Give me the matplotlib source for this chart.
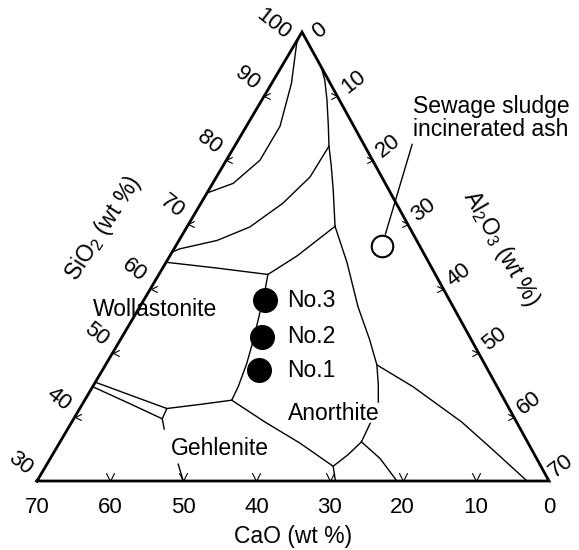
import numpy as np
import matplotlib
matplotlib.use("Agg")
import matplotlib.pyplot as plt
from matplotlib.path import Path

plt.rcParams["font.family"] = "Liberation Sans"
plt.rcParams["mathtext.fontset"] = "custom"
plt.rcParams["mathtext.rm"] = "Liberation Sans"

# --- Data (wt %): boundaries given as CaO / Al2O3, SiO2 is the remainder ---
# silica corner curve, left edge to left edge
b01_cao = [0.9, 1.6, 5.3, 10.1, 15.4, 20.8, 25.1]
b01_al = [0.0, 0.2, 2.7, 4.6, 4.6, 2.8, 0.0]
# from right edge near top down to the upper junction
b02_cao = [0.0, 0.5, 1.7, 3.4, 4.9, 6.0, 7.6, 10.1]
b02_al = [5.4, 7.0, 8.9, 11.1, 12.9, 14.7, 17.0, 20.2]
b03_cao = [4.9, 9.8, 15.5, 21.8, 27.3, 33.0, 34.3]
b03_al = [12.9, 12.8, 11.2, 8.6, 5.2, 0.8, 0.0]
b04_cao = [10.1, 17.5, 22.9]
b04_al = [20.2, 17.4, 14.9]
b05_cao = [35.9, 29.4, 22.9]
b05_al = [0.0, 7.4, 14.9]
# wollastonite / anorthite boundary (through the samples)
b06_cao = [22.9, 24.5, 26.9, 29.8, 32.5, 35.4, 37.3]
b06_al = [14.9, 15.8, 16.9, 18.2, 19.2, 19.9, 20.1]
b07_cao = [37.3, 41.5, 46.8]
b07_al = [20.1, 16.5, 11.9]
# double line on the left
b08_cao = [54.6, 50.8, 46.8, 48.2, 51.7, 55.3]
b08_al = [0.0, 5.8, 11.9, 12.1, 6.1, 0.0]
b09_cao = [48.2, 48.7]
b09_al = [12.1, 13.2]
b10_cao = [37.3, 34.4, 31.2, 28.4, 29.2]
b10_al = [20.1, 26.4, 32.9, 39.3, 40.8]
b11_cao = [28.4, 25.5, 22.7, 20.1]
b11_al = [39.3, 40.4, 41.2, 40.9]
b12_cao = [10.1, 11.2, 13.0, 13.9, 14.8, 16.1, 17.4]
b12_al = [20.2, 24.8, 29.8, 34.1, 37.1, 38.9, 40.3]
b13_cao = [14.8, 11.5, 7.5, 5.3, 3.0]
b13_al = [37.1, 43.8, 53.3, 59.9, 67.0]
b14_cao = [22.7, 21.4, 20.8]
b14_al = [41.2, 45.1, 49.2]

sample_names = ["No.1", "No.2", "No.3"]
sample_sio2 = [47.3, 52.5, 58.2]
sample_cao = [31.3, 28.4, 25.2]
sample_al2o3 = [21.4, 19.1, 16.6]

ash_sio2 = 66.6
ash_cao = 5.2
ash_al2o3 = 28.2

sio2_ticks = [30, 40, 50, 60, 70, 80, 90, 100]
al_ticks = [0, 10, 20, 30, 40, 50, 60, 70]
cao_ticks = [0, 10, 20, 30, 40, 50, 60, 70]

APEX_X = 265 / 512   # apex sits a little right of the base midpoint


def to_xy(cao, al2o3):
    cao = np.asarray(cao, float)
    al = np.asarray(al2o3, float)
    w = (70 - cao - al) / 70
    return al / 70 + APEX_X * w, w


fig = plt.figure(figsize=(5.79, 5.5), dpi=100)
ax = fig.add_axes([0, 0, 1, 1])
ax.set_xlim(-37 / 512, 542 / 512)
ax.set_ylim(-69 / 449, 481 / 449)
ax.axis("off")

# frame
fx, fy = to_xy([70, 0, 0, 70], [0, 70, 0, 0])
ax.plot(fx, fy, color="black", lw=2.0, solid_joinstyle="miter")

# phase boundaries
for c, a in [(b01_cao, b01_al), (b02_cao, b02_al), (b03_cao, b03_al),
             (b04_cao, b04_al), (b05_cao, b05_al), (b06_cao, b06_al),
             (b07_cao, b07_al), (b08_cao, b08_al), (b09_cao, b09_al),
             (b10_cao, b10_al), (b11_cao, b11_al), (b12_cao, b12_al),
             (b13_cao, b13_al), (b14_cao, b14_al)]:
    x, y = to_xy(c, a)
    ax.plot(x, y, color="black", lw=1.0)

# chevron ticks
mv = [Path.MOVETO, Path.LINETO, Path.LINETO]
v_mark = Path([(-0.5, 1), (0, 0), (0.5, 1)], mv)
l_mark = Path([(1, 0.5), (0, 0), (1, -0.5)], mv)
r_mark = Path([(-1, 0.5), (0, 0), (-1, -0.5)], mv)
inner = [10, 20, 30, 40, 50, 60]
tk = dict(ls="none", mfc="none", mec="black", mew=0.8)
x, y = to_xy(inner, [70 - c for c in inner])
ax.plot(x, y, marker=v_mark, ms=12, **tk)
x, y = to_xy([100 - s for s in [40, 50, 60, 70, 80, 90]], [0] * 6)
ax.plot(x, y, marker=l_mark, ms=9, **tk)
x, y = to_xy([0] * 6, inner)
ax.plot(x, y, marker=r_mark, ms=9, **tk)

# tick labels
for s in sio2_ticks:
    x, y = to_xy(100 - s, 0)
    off = (-21, 6) if s == 100 else (-12, 13)
    ax.annotate(str(s), (x, y), xytext=off, textcoords="offset points",
                ha="center", va="center", rotation=-38, fontsize=16)
for a in al_ticks:
    x, y = to_xy(0, a)
    if a == 0:
        off = (13, 1)
    elif a == 70:
        off = (9, 11)
    else:
        off = (11.5, 10)
    ax.annotate(str(a), (x, y), xytext=off, textcoords="offset points",
                ha="center", va="center", rotation=38, fontsize=16)
for c in cao_ticks:
    x, y = to_xy(c, 70 - c)
    ax.annotate(str(c), (x, y), xytext=(0, -19), textcoords="offset points",
                ha="center", va="center", fontsize=16)

ax.text(0.1293, 0.5626, "SiO$_2$ (wt %)", rotation=57, ha="center", va="center", fontsize=16.5)
ax.text(0.9063, 0.5176, "Al$_2$O$_3$ (wt %)", rotation=-60, ha="center", va="center", fontsize=16.5)
ax.text(0.5, -0.1247, "CaO (wt %)", ha="center", va="center", fontsize=16.5)

# samples
sx, sy = to_xy(sample_cao, sample_al2o3)
ax.plot(sx, sy, "o", color="black", ms=17)
for name, yy in zip(sample_names, sy):
    ax.text(0.4883, yy, name, ha="left", va="center", fontsize=16.5)

ax_x, ax_y = to_xy(ash_cao, ash_al2o3)
ax.plot(ax_x, ax_y, "o", mfc="white", mec="black", mew=1.5, ms=15.5)
ax.annotate("Sewage sludge\nincinerated ash", (ax_x, ax_y), xytext=(0.7344, 0.8085),
            ha="left", va="center", fontsize=16.5, linespacing=1.05,
            arrowprops=dict(arrowstyle="-", lw=1.0, relpos=(0, 0), shrinkA=0, shrinkB=9))

# field names
ax.text(0.2305, 0.3820, "Wollastonite", ha="center", va="center", fontsize=16.5)
ax.text(0.5801, 0.1499, "Anorthite", ha="center", va="center", fontsize=16.5)
ax.annotate("Gehlenite", to_xy(50, 20), xytext=(0.3574, 0.0728),
            ha="center", va="center", fontsize=16.5,
            arrowprops=dict(arrowstyle="-", lw=1.0, relpos=(0.06, 0), shrinkA=1, shrinkB=0))

fig.savefig("out.png", dpi=100)
